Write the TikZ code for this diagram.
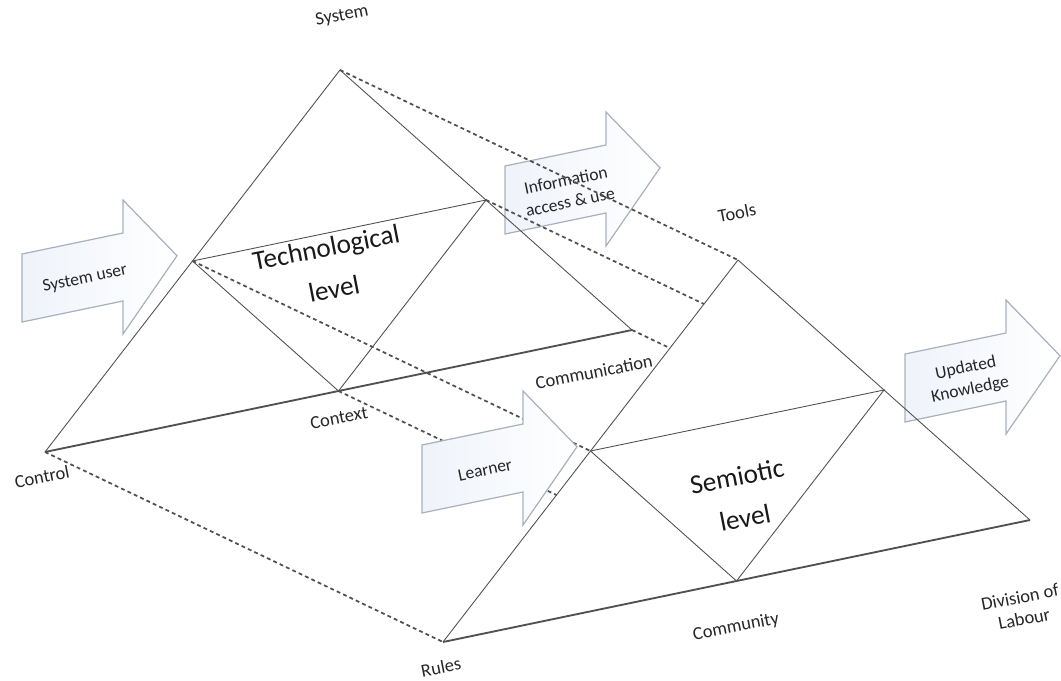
\documentclass[tikz,border=0pt]{standalone}
\usepackage{fontspec}
\setmainfont{Carlito}
\usetikzlibrary{calc}

\definecolor{edgegray}{RGB}{80,80,80}
\definecolor{arrowline}{RGB}{170,177,190}
\definecolor{arrowfill}{RGB}{239,243,250}

\tikzset{
  edge/.style={draw=edgegray, line width=0.5pt},
  baseedge/.style={draw=edgegray, line width=1.05pt},
  hidden/.style={draw=edgegray, line width=1pt, dash pattern=on 2.2pt off 1.8pt},
  cornerlabel/.style={font=\fontsize{10.5}{12.5}\selectfont, rotate=11, text=black!85, align=center},
  levellabel/.style={font=\fontsize{15.5}{24}\selectfont, rotate=11, align=center, text=black!90},
  arrowbody/.style={draw=arrowline, line width=0.7pt, left color=arrowfill, right color=white},
  arrowtext/.style={font=\fontsize{10}{12.5}\selectfont, rotate=11.7, align=center, text=black!85}
}

% block arrow: #1 name, #2 tail centre, #3 text
\newcommand{\blockarrow}[3]{%
  \begin{scope}[shift={#2}, yslant=0.208]
    \path[arrowbody] (0,-34) -- (101,-34) -- (101,-67) -- (155,0) -- (101,67) -- (101,34) -- (0,34) -- cycle;
  \end{scope}
  \node[arrowtext] (#1) at ($#2+(63,-9)$) {#3};
}

\begin{document}
\begin{tikzpicture}[x={(0.02cm,0)}, y={(0,-0.02cm)}]
    \useasboundingbox (0,0) rectangle (1061,680);

    % Define the corners of the two triangles
    \coordinate (system) at (340,70);
    \coordinate (control) at (45,452);
    \coordinate (communication) at (632,330);
    \coordinate (tools) at (738,260);
    \coordinate (rules) at (443,642);
    \coordinate (division) at (1030,520);

    % Midpoints of the sides
    \coordinate (techL) at ($(system)!0.5!(control)$);
    \coordinate (techR) at ($(system)!0.5!(communication)$);
    \coordinate (context) at ($(control)!0.5!(communication)$);
    \coordinate (semL) at ($(tools)!0.5!(rules)$);
    \coordinate (semR) at ($(tools)!0.5!(division)$);
    \coordinate (community) at ($(rules)!0.5!(division)$);

    % Arrows lying behind the triangles
    \blockarrow{infoArrow}{(505,200)}{Information\\access \& use}
    \blockarrow{knowArrow}{(905,388)}{Updated\\Knowledge}
    \blockarrow{userArrow}{(22,288)}{System user}

    % Technological triangle
    \draw[edge] (system) -- (control);
    \draw[edge] (system) -- (communication);
    \draw[baseedge] (control) -- (communication);
    \draw[edge] (techL) -- (techR) -- (context) -- cycle;

    % Semiotic triangle
    \draw[edge] (tools) -- (rules);
    \draw[edge] (tools) -- (division);
    \draw[baseedge] (rules) -- (division);
    \draw[edge] (semL) -- (semR) -- (community) -- cycle;

    % Dashed lines between the levels
    \draw[hidden] (system) -- (tools);
    \draw[hidden] (techR) -- (intersection of techR--semR and tools--rules);
    \draw[hidden] (communication) -- (intersection of communication--division and tools--rules);
    \draw[hidden] (techL) -- (semL);
    \draw[hidden] (context) -- (intersection of context--community and tools--rules);
    \draw[hidden] (control) -- (rules);

    % Learner arrow sits on top
    \blockarrow{learnerArrow}{(422,479)}{Learner}

    % Draw the labels
    \node[levellabel] (techLevel) at (330,268) {Technological\\level};
    \node[levellabel] (semLevel) at (741,497) {Semiotic\\level};
    \node[cornerlabel] (systemLbl) at (342,16) {System};
    \node[cornerlabel] (toolsLbl) at (737,213) {Tools};
    \node[cornerlabel] (commLbl) at (594,372) {Communication};
    \node[cornerlabel] (contextLbl) at (339,418) {Context};
    \node[cornerlabel] (controlLbl) at (42,477) {Control};
    \node[cornerlabel] (rulesLbl) at (441,667) {Rules};
    \node[cornerlabel] (communityLbl) at (736,627) {Community};
    \node[cornerlabel] (divisionLbl) at (1022,608) {Division of\\Labour};
\end{tikzpicture}
\end{document}
